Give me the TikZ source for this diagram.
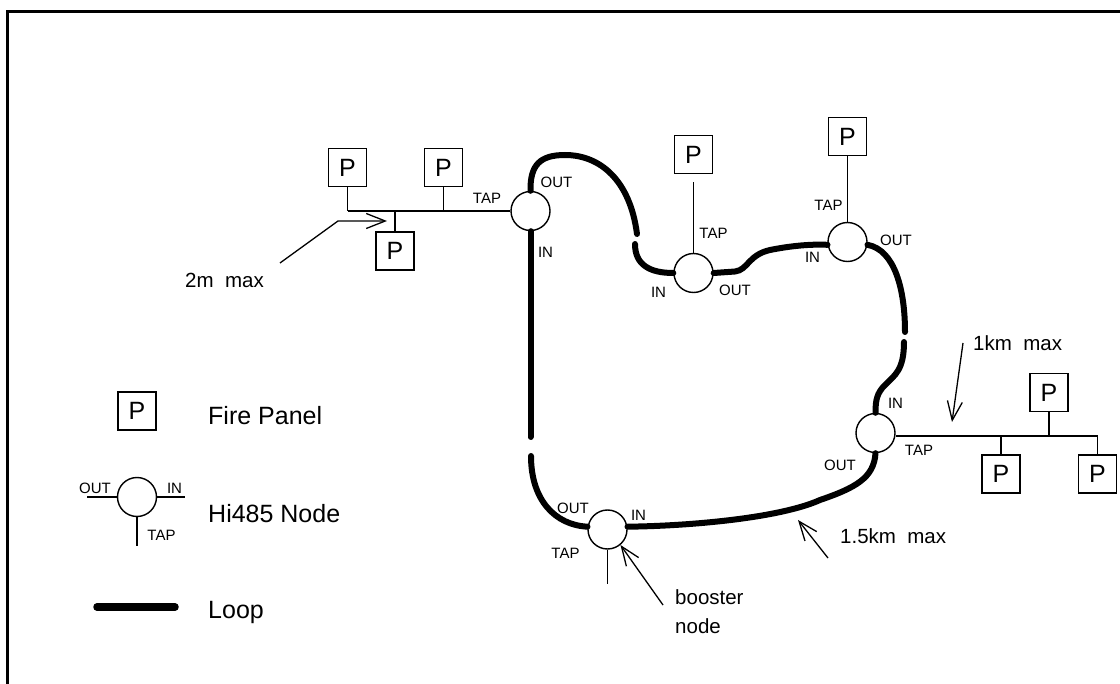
\documentclass[tikz,border=0pt]{standalone}
\usepackage{fontspec}
\setmainfont{Liberation Sans}
\usetikzlibrary{arrows.meta}
\begin{document}
\begin{tikzpicture}[x=1pt,y=-1pt,
  hinode/.style={circle,draw,line width=1.4pt,minimum size=39pt,inner sep=0pt},
  panel/.style={draw,line width=1.3pt,minimum size=38pt,inner sep=0pt,font=\fontsize{25}{25}\selectfont},
  tapline/.style={line width=1.4pt},
  loopline/.style={line width=6pt,line cap=round},
  small/.style={inner sep=0pt,font=\fontsize{15}{15}\selectfont},
  mid/.style={inner sep=0pt,font=\fontsize{20.5}{24}\selectfont,align=left},
  big/.style={inner sep=0pt,font=\fontsize{25}{25}\selectfont,anchor=base west},
  pointer/.style={line width=1.3pt,-{Straight Barb[length=19pt,width=15pt,line width=1.3pt]}}
]
\useasboundingbox (0,0) rectangle (1120,684);
\draw[line width=3pt] (7,684) -- (7,12) -- (1120,12);

% Hi485 nodes
\node[hinode] (c1) at (530.5,211) {};
\node[hinode] (c2) at (693.5,273) {};
\node[hinode] (c3) at (847.5,242) {};
\node[hinode] (c4) at (875.5,433) {};
\node[hinode] (c5) at (607.5,529.5) {};

% fire panels
\node[panel] (pA1) at (347.5,167.5) {P};
\node[panel] (pA2) at (443.5,167.5) {P};
\node[panel] (pA3) at (395,251) {P};
\node[panel] (p2) at (693.5,154.5) {P};
\node[panel] (p3) at (847.5,136.5) {P};
\node[panel] (p4a) at (1001,474) {P};
\node[panel] (p4b) at (1049,392.5) {P};
\node[panel] (p4c) at (1097.5,474) {P};

% tap of node 1
\coordinate (busA) at (347.5,211);
\draw[tapline] (c1.west) -- (busA);
\draw[tapline] (pA1.south) -- (busA);
\draw[tapline] (pA2.south) -- (pA2.south |- busA);
\draw[tapline] (pA3.north) -- (pA3.north |- busA);
% tap of node 2
\coordinate (t2) at (693.5,182);
\draw[tapline] (c2.north) -- (t2);
% tap of node 3
\draw[tapline] (c3.north) -- (p3.south);
% tap of node 4
\draw[tapline] (c4.-8) -- (c4.-8 -| p4c.north) -- (p4c.north);
\draw[tapline] (p4a.north) -- (p4a.north |- c4.-8);
\draw[tapline] (p4b.south) -- (p4b.south |- c4.-8);
% tap of node 5
\coordinate (t5) at (607.5,584);
\draw[tapline] (c5.south) -- (t5);

% loop
\coordinate (gA1) at (637,234);
\coordinate (gA2) at (635,244);
\coordinate (gB1) at (905,332);
\coordinate (gB2) at (904,342);
\coordinate (gC1) at (530.5,437);
\coordinate (gC2) at (531,456);
\draw[loopline] (c1.north) .. controls (530,165) and (540,155) .. (565,155)
  .. controls (600,155) and (630,180) .. (gA1);
\draw[loopline] (gA2) .. controls (635,265) and (650,273) .. (c2.west);
\draw[loopline] (c2.east) -- (735,271.5) .. controls (748,270) and (748,255) .. (770,250)
  .. controls (790,246) and (810,244) .. (c3.-172);
\draw[loopline] (c3.-8) .. controls (895,250) and (905,290) .. (gB1);
\draw[loopline] (gB2) .. controls (904,370) and (895,375) .. (885,385)
  .. controls (877,393) and (875.5,400) .. (c4.north);
\draw[loopline] (c4.south) .. controls (874,478) and (855,488) .. (820,500)
  .. controls (780,518) and (690,526) .. (c5.8);
\draw[loopline] (gC2) .. controls (531,500) and (555,525) .. (c5.172);
\draw[loopline] (c1.south) -- (gC1);

% port labels
\node[small] (l1t) at (487,198) {TAP};
\node[small] (l1o) at (556.5,182) {OUT};
\node[small] (l1i) at (545.5,252) {IN};
\node[small] (l2t) at (713.5,233) {TAP};
\node[small] (l2i) at (658.5,292) {IN};
\node[small] (l2o) at (735,290) {OUT};
\node[small] (l3t) at (828.5,205) {TAP};
\node[small] (l3i) at (812.5,257) {IN};
\node[small] (l3o) at (896,240) {OUT};
\node[small] (l4i) at (895.5,403) {IN};
\node[small] (l4t) at (919,450) {TAP};
\node[small] (l4o) at (840,465) {OUT};
\node[small] (l5o) at (573,508) {OUT};
\node[small] (l5i) at (638.5,515) {IN};
\node[small] (l5t) at (565.5,553) {TAP};

% annotations
\node[mid,anchor=west] (m2) at (185,280) {2m\ \ max};
\coordinate (a2s) at (280,263);
\coordinate (a2k) at (338,221);
\coordinate (a2e) at (387,221);
\draw[pointer] (a2s) -- (a2k) -- (a2e);

\node[mid,anchor=west] (m1) at (973,343) {1km\ \ max};
\coordinate (a1s) at (963,343);
\coordinate (a1e) at (952,422);
\draw[pointer] (a1s) -- (a1e);

\node[mid,anchor=west] (m15) at (840,536) {1.5km\ \ max};
\coordinate (a15s) at (828,558);
\coordinate (a15e) at (798,520);
\draw[pointer] (a15s) -- (a15e);

\node[mid,anchor=north west] (mb) at (675,589) {booster\\[5pt]node};
\coordinate (abs) at (663,605);
\draw[pointer] (abs) -- (c5.-50);

% legend
\node[panel] (pL) at (137,411) {P};
\node[big] (tFP) at (208,425) {Fire Panel};
\node[hinode] (cL) at (137,497) {};
\coordinate (cLw) at (87,497);
\coordinate (cLe) at (185,497);
\coordinate (cLs) at (137,546);
\draw[tapline] (cL.west) -- (cLw);
\draw[tapline] (cL.east) -- (cLe);
\draw[tapline] (cL.south) -- (cLs);
\node[small] (lLo) at (95,488) {OUT};
\node[small] (lLi) at (174.5,488) {IN};
\node[small] (lLt) at (161.5,535) {TAP};
\node[big] (tHN) at (208,523) {Hi485 Node};
\coordinate (lpa) at (97,607);
\coordinate (lpb) at (175,607);
\draw[line width=7.5pt,line cap=round] (lpa) -- (lpb);
\node[big] (tLp) at (208,618) {Loop};
\end{tikzpicture}
\end{document}
